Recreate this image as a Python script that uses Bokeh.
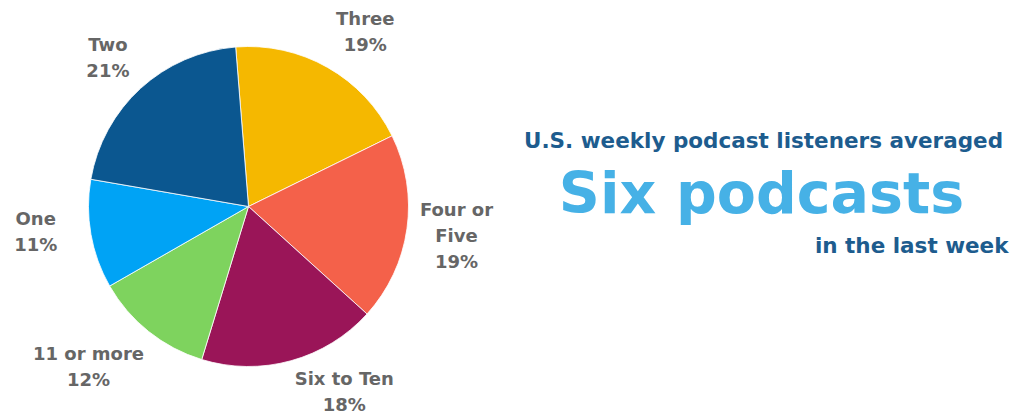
import math
from bokeh.plotting import figure
from bokeh.models import Range1d, ColumnDataSource, Label
from bokeh.core.properties import value
from bokeh.embed import file_html
from bokeh.resources import INLINE

# ---- data ----
categories = ["Three", "Four or Five", "Six to Ten", "11 or more", "One", "Two"]
shares = [19, 19, 18, 12, 11, 21]
palette = ["#F5B800", "#F4614A", "#9A1558", "#7ED35E", "#00A3F5", "#0B5790"]
label_lines = [["Three", "19%"], ["Four or", "Five", "19%"], ["Six to Ten", "18%"],
               ["11 or more", "12%"], ["One", "11%"], ["Two", "21%"]]

W, H = 1022, 417
p = figure(width=W, height=H, output_backend="svg", toolbar_location=None,
           x_range=Range1d(0, W), y_range=Range1d(0, H), min_border=0,
           background_fill_color="white", border_fill_color="white")
p.axis.visible = False
p.grid.visible = False
p.outline_line_color = None

cx, cy = 248, H - 206
R = 160
start_cw = -4.6  # degrees clockwise from top
total = sum(shares)
starts, ends, mids = [], [], []
c = start_cw
for s in shares:
    c1 = c + 360.0 * s / total
    starts.append(math.radians(90 - c1))
    ends.append(math.radians(90 - c))
    mids.append((c + c1) / 2)
    c = c1

src = ColumnDataSource(dict(start=starts, end=ends, color=palette, cat=categories))
p.wedge(x=cx, y=cy, radius=R, radius_units="screen", start_angle="start", end_angle="end",
        fill_color="color", line_color="white", line_width=0.8, source=src)

# labels (dx, dy in data units, y up)
LR = 210
nudge = {"Three": (13, -8), "Two": (1, -6), "Six to Ten": (40, 17),
         "11 or more": (-29, 4), "One": (-6, 11)}
tx, ty, tt = [], [], []
for cat, mid, lines in zip(categories, mids, label_lines):
    a = math.radians(mid)
    lx = cx + LR * math.sin(a)
    ly = cy + LR * math.cos(a)
    dx, dy = nudge.get(cat, (0, 0))
    lx += dx
    ly += dy
    n = len(lines)
    for i, ln in enumerate(lines):
        tx.append(lx)
        ty.append(ly + (n - 1) * 13 - i * 26)
        tt.append(ln)
p.text(x=tx, y=ty, text=tt, text_align="center", text_baseline="middle",
       text_font=value("DejaVu Sans"), text_font_style="bold", text_font_size="18px",
       text_color="#666666")

p.add_layout(Label(x=763, y=H - 140, text="U.S. weekly podcast listeners averaged",
                   text_align="center", text_baseline="middle", text_font="DejaVu Sans",
                   text_font_style="bold", text_font_size="21.5px", text_color="#1D5C8E"))
p.add_layout(Label(x=761, y=H - 192, text="Six podcasts",
                   text_align="center", text_baseline="middle", text_font="DejaVu Sans",
                   text_font_style="bold", text_font_size="57px", text_color="#46B1E6"))
p.add_layout(Label(x=1008, y=H - 245, text="in the last week",
                   text_align="right", text_baseline="middle", text_font="DejaVu Sans",
                   text_font_style="bold", text_font_size="21.5px", text_color="#1D5C8E"))

open("out.html", "w").write(file_html(p, INLINE))
